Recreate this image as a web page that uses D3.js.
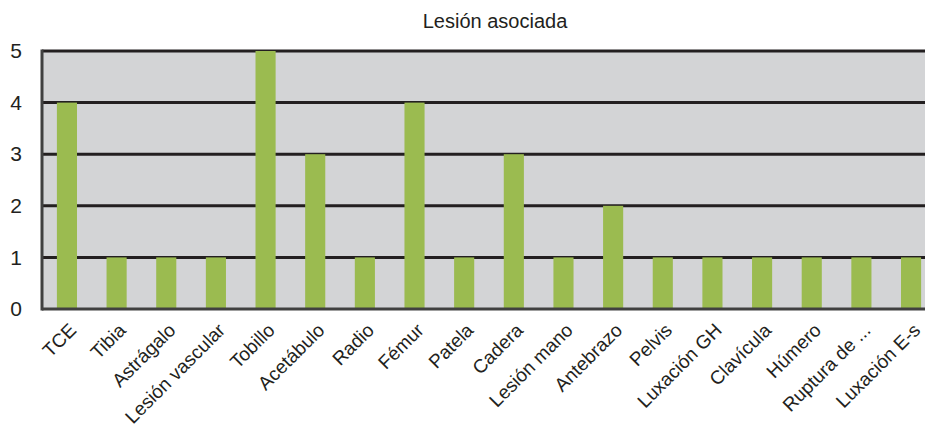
<!DOCTYPE html>
<html>
<head>
<meta charset="utf-8">
<script src="https://cdn.jsdelivr.net/npm/d3@7"></script>
<style>
  body { margin: 0; background: #fff; }
  svg { display: block; font-family: "Liberation Sans Narrow", "Arial Narrow", "Liberation Sans", sans-serif; }
</style>
</head>
<body>
<svg width="925" height="433"></svg>
<script>
var categories = ["TCE", "Tibia", "Astrágalo", "Lesión vascular", "Tobillo", "Acetábulo", "Radio", "Fémur",
  "Patela", "Cadera", "Lesión mano", "Antebrazo", "Pelvis", "Luxación GH", "Clavícula", "Húmero",
  "Ruptura de ...", "Luxación E-s"];
var values = [4, 1, 1, 1, 5, 3, 1, 4, 1, 3, 1, 2, 1, 1, 1, 1, 1, 1];
var yTicks = [0, 1, 2, 3, 4, 5];
var title = "Lesión asociada";

var svg = d3.select("svg"),
    plotLeft = 42, plotRight = 936, plotTop = 51, plotBottom = 309;

var x = d3.scaleBand().domain(categories).range([plotLeft, plotRight]).paddingInner(0.595).paddingOuter(0.3);
var y = d3.scaleLinear().domain([0, 5]).range([plotBottom, plotTop]);

// plot background
svg.append("rect")
  .attr("x", plotLeft).attr("y", plotTop)
  .attr("width", plotRight - plotLeft).attr("height", plotBottom - plotTop)
  .attr("fill", "#d3d4d6");

// gridlines
svg.append("g").selectAll("line").data(yTicks.filter(function(d) { return d > 0; })).enter().append("line")
  .attr("x1", plotLeft).attr("x2", plotRight)
  .attr("y1", function(d) { return y(d); }).attr("y2", function(d) { return y(d); })
  .attr("stroke", "#231f20").attr("stroke-width", 3);

// bars
svg.append("g").selectAll("rect").data(values).enter().append("rect")
  .attr("x", function(d, i) { return x(categories[i]); })
  .attr("y", function(d) { return y(d); })
  .attr("width", x.bandwidth())
  .attr("height", function(d) { return plotBottom - y(d); })
  .attr("fill", "#9bbb50");

// axes
var yAxis = d3.axisLeft(y).tickValues(yTicks).tickSize(0).tickPadding(20).tickFormat(d3.format("d"));
var gy = svg.append("g").attr("transform", "translate(" + plotLeft + ",0)").call(yAxis);
gy.select(".domain").remove();
gy.selectAll("text").attr("font-size", 21).attr("fill", "#231f20").attr("font-family", "inherit");

svg.append("line")
  .attr("x1", plotLeft).attr("x2", plotLeft).attr("y1", plotTop - 1.5).attr("y2", plotBottom + 1.5)
  .attr("stroke", "#404040").attr("stroke-width", 3);
svg.append("line")
  .attr("x1", plotLeft).attr("x2", plotRight).attr("y1", plotBottom).attr("y2", plotBottom)
  .attr("stroke", "#404040").attr("stroke-width", 3);

// x labels
svg.append("g").selectAll("text").data(categories).enter().append("text")
  .attr("transform", function(d) {
    return "translate(" + (x(d) + x.bandwidth() / 2 + 1) + "," + 322 + ") rotate(-45)";
  })
  .attr("text-anchor", "end")
  .attr("dy", "0.7em")
  .attr("font-size", 19)
  .attr("fill", "#231f20")
  .text(function(d) { return d; });

svg.append("text")
  .attr("x", 495).attr("y", 28)
  .attr("text-anchor", "middle")
  .attr("font-size", 20)
  .attr("fill", "#231f20")
  .text(title);
</script>
</body>
</html>
